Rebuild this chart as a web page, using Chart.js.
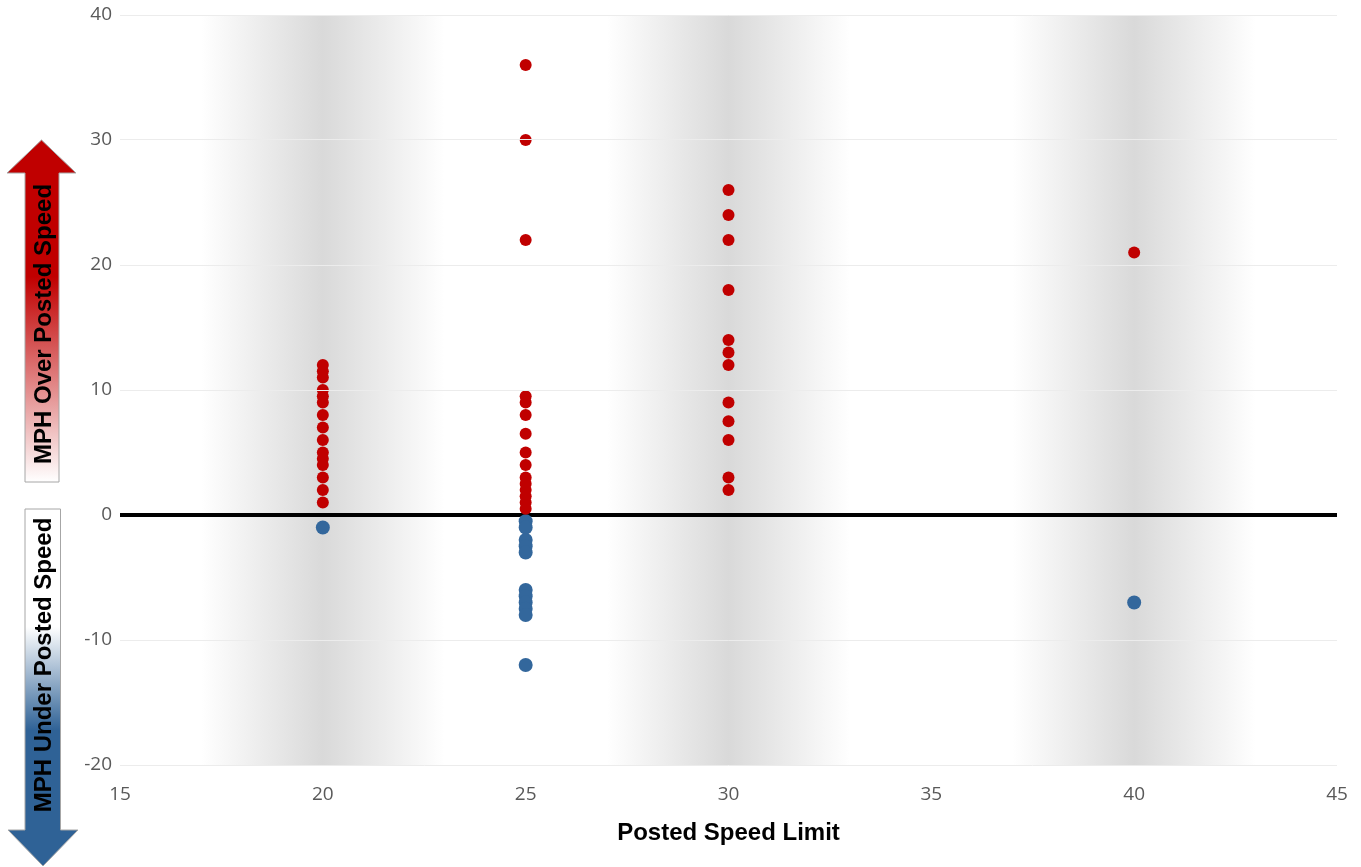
<!DOCTYPE html>
<html>
<head>
<meta charset="utf-8">
<script src="https://cdn.jsdelivr.net/npm/chart.js@4/dist/chart.umd.min.js"></script>
<style>
    body { margin: 0; background: #ffffff; }
    #wrap { width: 1361px; height: 867px; position: relative; }
</style>
</head>
<body>
<div id="wrap"><canvas id="speedChart"></canvas></div>
<script>
// Speed survey - MPH over / under the posted limit

// Data
const over20 = [12, 11.5, 11, 10, 9.5, 9, 8, 7, 6, 5, 4.5, 4, 3, 2, 1];
const under20 = [-1];
const over25 = [36, 30, 22, 9.5, 9, 8, 6.5, 5, 4, 3, 2.5, 2, 1.5, 1, 0.5];
const under25 = [-0.5, -1, -2, -2.5, -3, -6, -6.5, -7, -7.5, -8, -12];
const over30 = [26, 24, 22, 18, 14, 13, 12, 9, 7.5, 6, 3, 2];
const under30 = [];
const over40 = [21];
const under40 = [-7];

// Shaded columns behind the points
const bandCenters = [20, 30, 40];
const bandRange = [-20, 40];
const bandWidth = 6;

// Axis ticks
const xTicks = [15, 20, 25, 30, 35, 40, 45];
const yTicks = [-20, -10, 0, 10, 20, 30, 40];

function toPoints(limit, values) {
    return values.map(v => ({ x: limit, y: v }));
}

const overPoints = [].concat(
    toPoints(20, over20), toPoints(25, over25), toPoints(30, over30), toPoints(40, over40)
);
const underPoints = [].concat(
    toPoints(20, under20), toPoints(25, under25), toPoints(30, under30), toPoints(40, under40)
);
const bandData = bandCenters.map(c => ({ x: c, y: bandRange }));
const zeroLine = [{ x: xTicks[0], y: 0 }, { x: xTicks[xTicks.length - 1], y: 0 }];

// Gradient for each shaded column, white - grey - white
function bandFill(context) {
    const chart = context.chart;
    if (!chart.chartArea || !context.raw) {
        return '#d9d9d9';
    }
    const xs = chart.scales.x;
    const left = xs.getPixelForValue(context.raw.x - bandWidth / 2);
    const right = xs.getPixelForValue(context.raw.x + bandWidth / 2);
    const g = chart.ctx.createLinearGradient(left, 0, right, 0);
    g.addColorStop(0, 'rgba(255,255,255,1)');
    g.addColorStop(0.5, '#d9d9d9');
    g.addColorStop(1, 'rgba(255,255,255,1)');
    return g;
}

// Arrows with labels left of the y axis
const sideArrows = {
    id: 'sideArrows',
    afterDraw(chart) {
        const ctx = chart.ctx;

        function arrow(pts, y0, y1, stops, label, cy) {
            ctx.save();
            const g = ctx.createLinearGradient(0, y0, 0, y1);
            stops.forEach(s => g.addColorStop(s[0], s[1]));
            ctx.beginPath();
            ctx.moveTo(pts[0][0], pts[0][1]);
            for (let i = 1; i < pts.length; i++) {
                ctx.lineTo(pts[i][0], pts[i][1]);
            }
            ctx.closePath();
            ctx.fillStyle = g;
            ctx.fill();
            ctx.strokeStyle = '#a6a6a6';
            ctx.lineWidth = 1;
            ctx.stroke();

            ctx.translate(44, cy);
            ctx.rotate(-Math.PI / 2);
            ctx.font = 'bold 24px "Liberation Sans", Arial, sans-serif';
            ctx.fillStyle = '#000000';
            ctx.textAlign = 'center';
            ctx.textBaseline = 'middle';
            ctx.fillText(label, 0, 0);
            ctx.restore();
        }

        arrow(
            [[41.5, 140], [76, 173], [59, 173], [59, 482], [25, 482], [25, 173], [7, 173]],
            140, 482,
            [[0, '#c00000'], [0.4, '#c00000'], [1, '#ffffff']],
            'MPH Over Posted Speed', 324
        );
        arrow(
            [[25, 509], [60.5, 509], [60.5, 830], [78, 830], [43, 866], [8, 830], [25, 830]],
            509, 866,
            [[0, '#ffffff'], [0.33, '#ffffff'], [0.62, '#2f6296'], [1, '#2f6296']],
            'MPH Under Posted Speed', 665
        );
    }
};

const tickFont = { family: '"Open Sans", sans-serif', size: 19 };

new Chart(document.getElementById('speedChart'), {
    type: 'scatter',
    data: {
        datasets: [
            {
                label: 'Over',
                data: overPoints,
                backgroundColor: '#c00000',
                borderWidth: 0,
                pointRadius: 6,
                pointHoverRadius: 6,
                order: 0
            },
            {
                label: 'Under',
                data: underPoints,
                backgroundColor: '#33679c',
                borderWidth: 0,
                pointRadius: 7,
                pointHoverRadius: 7,
                order: 0
            },
            {
                type: 'line',
                label: 'Zero',
                data: zeroLine,
                borderColor: '#000000',
                borderWidth: 4,
                pointRadius: 0,
                fill: false,
                order: 1
            },
            {
                type: 'bar',
                label: 'Bands',
                data: bandData,
                backgroundColor: bandFill,
                borderWidth: 0,
                borderSkipped: false,
                categoryPercentage: 1,
                barPercentage: bandWidth / (xTicks[1] - xTicks[0]),
                order: 2
            }
        ]
    },
    options: {
        responsive: true,
        maintainAspectRatio: false,
        animation: false,
        layout: {
            padding: { top: 0, right: 24, bottom: 0, left: 0 }
        },
        plugins: {
            legend: { display: false },
            tooltip: { enabled: false }
        },
        scales: {
            x: {
                type: 'linear',
                offset: false,
                min: xTicks[0],
                max: xTicks[xTicks.length - 1],
                afterBuildTicks: axis => { axis.ticks = xTicks.map(v => ({ value: v })); },
                afterFit: axis => { axis.height = 102; },
                ticks: {
                    color: '#595959',
                    font: tickFont,
                    padding: 10
                },
                grid: { display: false },
                border: { display: false },
                title: {
                    display: true,
                    text: 'Posted Speed Limit',
                    color: '#000000',
                    font: { family: '"Liberation Sans", Arial, sans-serif', size: 24, weight: 'bold' },
                    padding: { top: 4, bottom: 19 }
                }
            },
            y: {
                type: 'linear',
                min: yTicks[0],
                max: yTicks[yTicks.length - 1],
                afterBuildTicks: axis => { axis.ticks = yTicks.map(v => ({ value: v })); },
                afterFit: axis => {
                    axis.width = 120;
                    axis.paddingTop = 15;
                    axis.paddingBottom = 0;
                },
                ticks: {
                    color: '#595959',
                    font: tickFont,
                    padding: 8
                },
                grid: {
                    z: 1,
                    drawTicks: false,
                    color: ctx => (ctx.tick && ctx.tick.value === 0 ? 'rgba(0,0,0,0)' : '#ececec'),
                    lineWidth: 1
                },
                border: { display: false }
            }
        }
    },
    plugins: [sideArrows]
});
</script>
</body>
</html>
